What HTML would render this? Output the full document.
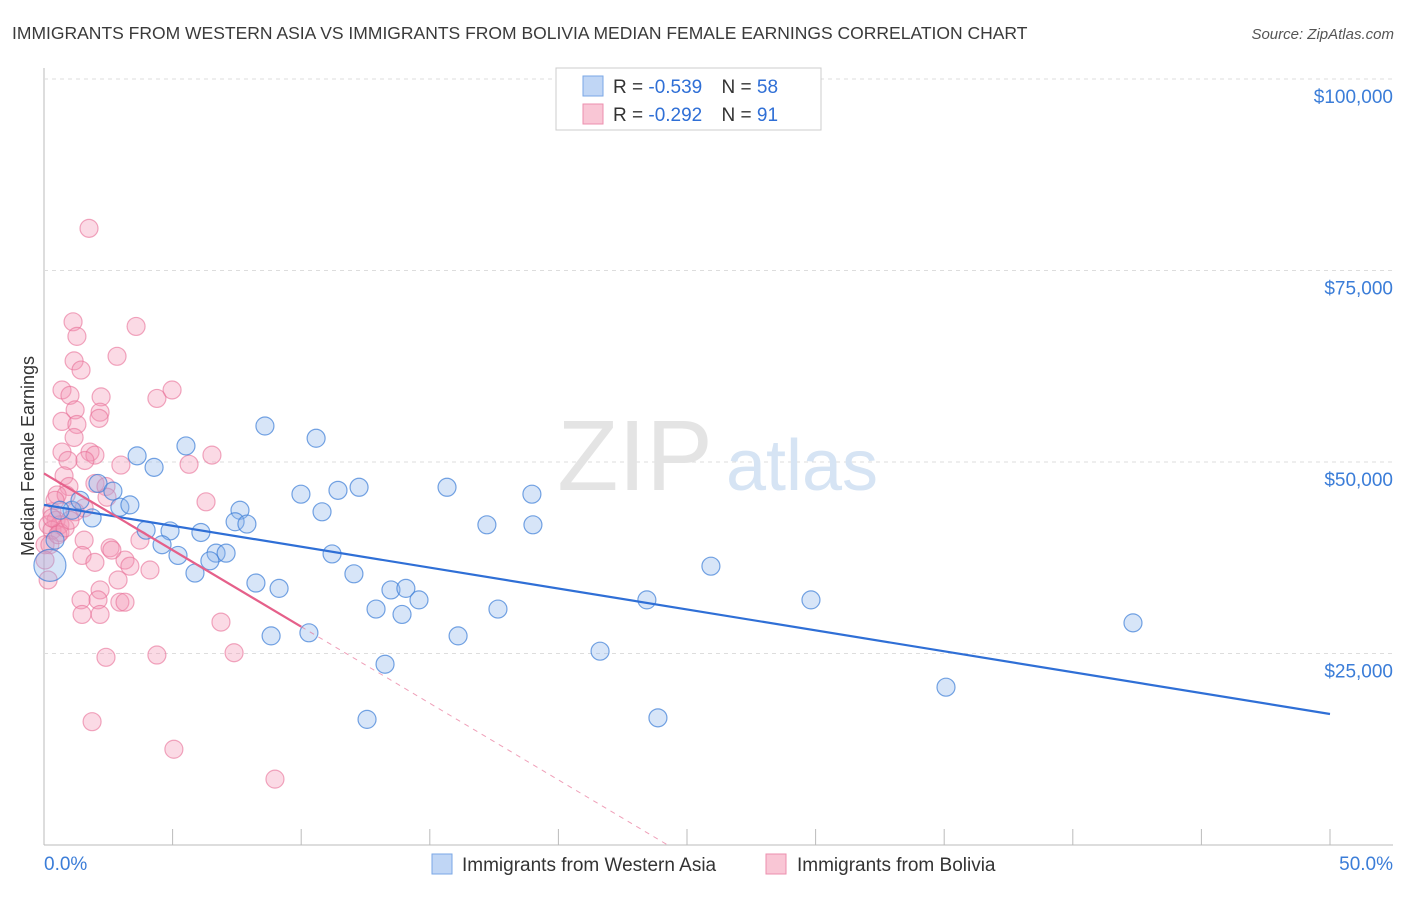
<!DOCTYPE html>
<html><head><meta charset="utf-8"><style>
body{margin:0;background:#fff;font-family:"Liberation Sans",sans-serif;}
svg text{font-family:"Liberation Sans",sans-serif;}
</style></head><body>
<svg id="chart" width="1406" height="892" viewBox="0 0 1406 892">
<text x="12" y="39" font-size="17.5" fill="#3a3a3a">IMMIGRANTS FROM WESTERN ASIA VS IMMIGRANTS FROM BOLIVIA MEDIAN FEMALE EARNINGS CORRELATION CHART</text>
<text x="1394" y="39" font-size="15" fill="#555" text-anchor="end" font-style="italic">Source: ZipAtlas.com</text>
<g id="grid"></g>
<text x="635" y="490" font-size="100" fill="#e4e4e4" font-family="Liberation Serif" text-anchor="middle">ZIP</text>
<text x="802" y="490" font-size="72" fill="#d6e4f4" text-anchor="middle">atlas</text>
<g id="pts"></g>
<g id="lines"></g>
<text transform="translate(34,456) rotate(-90)" font-size="18" fill="#333" text-anchor="middle">Median Female Earnings</text>
<g>
<rect x="556" y="68" width="265" height="62" fill="#fff" stroke="#ccc"/>
<rect x="583" y="76" width="20" height="20" fill="#c0d6f5" stroke="#7aa7e6"/>
<rect x="583" y="104" width="20" height="20" fill="#f9c6d5" stroke="#ec8fae"/>
<text x="613" y="93" font-size="19" fill="#333">R = <tspan fill="#2f6fd6">-0.539</tspan>  <tspan dx="14">N = </tspan><tspan fill="#2f6fd6">58</tspan></text>
<text x="613" y="121" font-size="19" fill="#333">R = <tspan fill="#2f6fd6">-0.292</tspan>  <tspan dx="14">N = </tspan><tspan fill="#2f6fd6"> 91</tspan></text>
</g>
<g>
<rect x="432" y="854" width="20" height="20" fill="#c0d6f5" stroke="#7aa7e6"/>
<text x="462" y="871" font-size="19" fill="#333">Immigrants from Western Asia</text>
<rect x="766" y="854" width="20" height="20" fill="#f9c6d5" stroke="#ec8fae"/>
<text x="797" y="871" font-size="19" fill="#333">Immigrants from Bolivia</text>
</g>
</svg>
<script>
const xTicks=[0,5,10,15,20,25,30,35,40,45,50];
const yTicks=[25000,50000,75000,100000];
const yTickLabels=["$25,000","$50,000","$75,000","$100,000"];
const xEndLabels=["0.0%","50.0%"];
const blueX=[8.59,10.58,5.52,3.62,4.28,2.10,2.68,9.99,11.43,12.25,15.67,18.97,2.95,3.34,1.87,1.09,7.62,10.81,3.97,4.90,6.10,7.43,7.89,17.22,19.01,4.59,5.21,6.69,7.08,6.45,11.20,5.87,8.24,9.14,12.05,13.49,14.07,14.58,12.91,13.92,17.65,25.93,23.44,29.82,8.83,10.30,16.10,21.62,13.26,42.34,35.07,12.56,23.87,0.23,0.62,1.40,0.43];
const blueY=[54.7,53.1,52.1,50.8,49.3,47.2,46.2,45.8,46.3,46.7,46.7,45.8,44.1,44.4,42.7,43.7,43.7,43.5,41.1,41.0,40.8,42.2,41.9,41.8,41.8,39.2,37.8,38.1,38.1,37.1,38.0,35.5,34.2,33.5,35.4,33.3,33.5,32.0,30.8,30.1,30.8,36.4,32.0,32.0,27.3,27.7,27.3,25.3,23.6,29.0,20.6,16.4,16.6,36.5,43.7,45.0,39.8];
const pinkX=[1.75,1.13,3.58,1.28,1.17,1.44,2.84,4.98,0.70,1.01,2.22,4.39,2.18,1.21,0.70,1.28,2.14,1.17,5.64,6.53,2.99,0.70,1.79,1.98,1.59,0.93,0.78,0.97,1.98,2.41,0.51,0.86,2.45,6.30,1.21,1.56,0.31,0.47,0.62,0.16,0.31,0.62,0.04,3.73,1.56,2.57,1.48,1.98,3.15,2.64,4.12,3.34,2.88,2.18,2.10,1.44,1.48,2.18,2.95,3.15,6.88,2.41,4.39,7.39,1.87,5.05,8.98,0.16,0.23,0.43,0.04,0.54,0.82,0.31,1.01];
const pinkY=[80.5,68.3,67.7,66.4,63.2,62.0,63.8,59.4,59.4,58.7,58.5,58.3,56.5,56.8,55.3,54.9,55.7,53.2,49.7,50.9,49.6,51.3,51.3,50.9,50.2,50.2,48.2,46.8,47.2,46.8,45.7,45.7,45.4,44.8,43.5,44.0,43.5,42.4,41.8,41.8,41.1,40.8,39.2,39.8,39.8,38.8,37.8,36.9,37.2,38.5,35.9,36.4,34.6,33.3,32.0,32.0,30.1,30.1,31.7,31.7,29.1,24.5,24.8,25.1,16.1,12.5,8.6,34.6,39.2,45.0,37.2,40.5,41.4,42.7,42.4];
const blueBig=[36.5];
const blueTrend=[44.4,17.1];   // $k at 0% and 50%
const pinkTrend=[48.5,-2.0];   // $k intercept, slope per %
const pinkSolidEnd=[10];

const NS="http://www.w3.org/2000/svg";
const X0=44,X1=1330,YB=845,PX=191.5/25;
const sx=p=>X0+(X1-X0)*p/50;
const sy=k=>YB-k*PX;
function mk(tag,attrs,parent){const e=document.createElementNS(NS,tag);for(const k in attrs)e.setAttribute(k,attrs[k]);parent.appendChild(e);return e;}
const grid=document.getElementById('grid');
const ax=mk('line',{x1:44,y1:68,x2:44,y2:845,stroke:'#bbb'},grid);


const bx=mk('line',{x1:44,y1:845,x2:1393,y2:845,stroke:'#bbb'},grid);


yTicks.forEach((v,i)=>{
  const y=sy(v/1000);
  const g=mk('line',{x1:44,y1:y,x2:1393,y2:y,stroke:'#ddd','stroke-dasharray':'4,4'},grid);
  
  
  const t=mk('text',{x:1393,y:y+24,'font-size':19,fill:'#3b7dd8','text-anchor':'end'},grid);
  t.textContent=yTickLabels[i];
  
  
});
xTicks.forEach(p=>{
  const x=sx(p);
  const l=mk('line',{x1:x,y1:829,x2:x,y2:845,stroke:'#bbb'},grid);
  
  
});
const t0=mk('text',{x:44,y:870,'font-size':19,fill:'#3b7dd8'},grid);t0.textContent=xEndLabels[0];


const t1=mk('text',{x:1393,y:870,'font-size':19,fill:'#3b7dd8','text-anchor':'end'},grid);t1.textContent=xEndLabels[1];



const pts=document.getElementById('pts');
pinkX.forEach((x,i)=>{
  const c=mk('circle',{cx:sx(x),cy:sy(pinkY[i]),r:9,fill:'rgba(243,150,180,0.35)',stroke:'rgba(232,110,150,0.6)','stroke-width':1.2},pts);
  
  
});
blueX.forEach((x,i)=>{
  const big=(i===blueX.length-4);
  const c=mk('circle',{cx:sx(x),cy:sy(blueY[i]),r:big?16:9,fill:'rgba(140,180,235,0.35)',stroke:'rgba(60,125,215,0.7)','stroke-width':1.2},pts);
  
  
});
const lines=document.getElementById('lines');
const bl=mk('line',{x1:sx(0),y1:sy(blueTrend[0]),x2:sx(50),y2:sy(blueTrend[1]),stroke:'#2f6fd6','stroke-width':2.2},lines);


const pf=p=>pinkTrend[0]+pinkTrend[1]*p;
const pzero=-pinkTrend[0]/pinkTrend[1];
const pl=mk('line',{x1:sx(0),y1:sy(pf(0)),x2:sx(pinkSolidEnd[0]),y2:sy(pf(pinkSolidEnd[0])),stroke:'#e5608a','stroke-width':2.2},lines);


const pd=mk('line',{x1:sx(pinkSolidEnd[0]),y1:sy(pf(pinkSolidEnd[0])),x2:sx(pzero),y2:sy(0),stroke:'#e5608a','stroke-width':1,'stroke-dasharray':'5,5',opacity:0.6},lines);


</script>
</body></html>
